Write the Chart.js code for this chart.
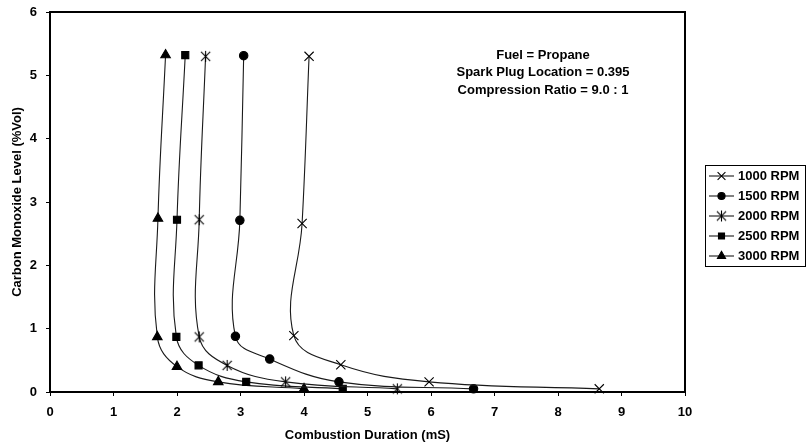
<!DOCTYPE html>
<html>
<head>
<meta charset="utf-8">
<script src="https://cdn.jsdelivr.net/npm/chart.js@4.4.1/dist/chart.umd.min.js"></script>
<style>
  html, body { margin: 0; padding: 0; background: #fff; }
  #wrap { width: 806px; height: 447px; position: relative; }
</style>
</head>
<body>
<div id="wrap"><canvas id="c" width="806" height="447"></canvas></div>
<script>
// Engine speeds (series names)
const speeds = ['1000 RPM', '1500 RPM', '2000 RPM', '2500 RPM', '3000 RPM'];

// Combustion duration (mS) per speed
const dur1000 = [4.08, 3.97, 3.84, 4.58, 5.97, 8.65];
const dur1500 = [3.05, 2.99, 2.92, 3.46, 4.55, 6.67];
const dur2000 = [2.45, 2.35, 2.35, 2.79, 3.71, 5.47];
const dur2500 = [2.13, 2.00, 1.99, 2.34, 3.09, 4.61];
const dur3000 = [1.82, 1.70, 1.69, 2.00, 2.65, 4.00];

// Carbon monoxide level (%Vol) per speed
const co1000 = [5.30, 2.66, 0.89, 0.43, 0.16, 0.05];
const co1500 = [5.31, 2.71, 0.88, 0.52, 0.16, 0.05];
const co2000 = [5.30, 2.72, 0.87, 0.42, 0.16, 0.05];
const co2500 = [5.32, 2.72, 0.87, 0.42, 0.16, 0.05];
const co3000 = [5.32, 2.74, 0.87, 0.40, 0.16, 0.05];

// Axis tick values
const xTicks = [0, 1, 2, 3, 4, 5, 6, 7, 8, 9, 10];
const yTicks = [0, 1, 2, 3, 4, 5, 6];

// Annotation lines
const notes = ['Fuel = Propane', 'Spark Plug Location = 0.395', 'Compression Ratio = 9.0 : 1'];

const FONT = 'Liberation Sans, Arial, sans-serif';

// Six-spoke asterisk marker
function asteriskMarker() {
  const s = 13, c = document.createElement('canvas');
  c.width = s; c.height = s;
  const g = c.getContext('2d');
  g.strokeStyle = '#000'; g.lineWidth = 1.1;
  const m = s / 2, r = 4.6;
  g.beginPath();
  g.moveTo(m - r, m - r); g.lineTo(m + r, m + r);
  g.moveTo(m + r, m - r); g.lineTo(m - r, m + r);
  g.moveTo(m, m - r - 1); g.lineTo(m, m + r + 1);
  g.stroke();
  return c;
}
const star = asteriskMarker();

function pts(xs, ys) { return xs.map((x, i) => ({ x: x, y: ys[i] })); }

const styles = [
  { pointStyle: 'crossRot', radius: 6.5 },
  { pointStyle: 'circle', radius: 4.2 },
  { pointStyle: star, radius: 6 },
  { pointStyle: 'rect', radius: 5 },
  { pointStyle: 'triangle', radius: 5.5 }
];
const series = [pts(dur1000, co1000), pts(dur1500, co1500), pts(dur2000, co2000), pts(dur2500, co2500), pts(dur3000, co3000)];

const datasets = speeds.map((name, i) => ({
  label: name,
  data: series[i],
  showLine: true,
  tension: 0.4,
  borderColor: '#1a1a1a',
  borderWidth: 1.1,
  backgroundColor: '#000',
  pointBackgroundColor: '#000',
  pointBorderColor: '#000',
  pointBorderWidth: 1.1,
  pointStyle: styles[i].pointStyle,
  pointRadius: styles[i].radius,
  pointHoverRadius: styles[i].radius,
  clip: false
}));

// Frame, annotation and line-with-marker legend
const extras = {
  id: 'extras',
  afterDatasetsDraw(chart) {
    const ctx = chart.ctx, a = chart.chartArea;
    ctx.save();
    ctx.strokeStyle = '#000';
    ctx.lineWidth = 2;
    ctx.beginPath();
    ctx.moveTo(a.left, a.top); ctx.lineTo(a.right, a.top); ctx.lineTo(a.right, a.bottom);
    ctx.stroke();

    ctx.fillStyle = '#000';
    ctx.font = 'bold 13px ' + FONT;
    ctx.textAlign = 'center';
    ctx.textBaseline = 'middle';
    notes.forEach((t, i) => ctx.fillText(t, 543, 55 + i * 17.5));

    // legend
    const lx = 705, ly = 165, lw = 100, lh = 101;
    ctx.lineWidth = 1;
    ctx.strokeRect(lx + 0.5, ly + 0.5, lw, lh);
    chart.data.datasets.forEach((ds, i) => {
      const y = 176 + i * 20;
      ctx.strokeStyle = '#1a1a1a';
      ctx.lineWidth = 1.1;
      ctx.beginPath(); ctx.moveTo(709, y); ctx.lineTo(734, y); ctx.stroke();
      ctx.fillStyle = '#000'; ctx.strokeStyle = '#000';
      Chart.helpers.drawPoint(ctx, { pointStyle: ds.pointStyle, radius: ds.pointRadius * 0.85, rotation: 0, borderWidth: 1.1 }, 721.5, y);
      ctx.fillStyle = '#000';
      ctx.font = 'bold 13px ' + FONT;
      ctx.textAlign = 'left';
      ctx.textBaseline = 'middle';
      ctx.fillText(ds.label, 738, y + 0.5);
    });
    ctx.restore();
  }
};

function noScalePadding(s) {
  s.paddingTop = 0; s.paddingBottom = 0; s.paddingLeft = 0; s.paddingRight = 0;
}

new Chart(document.getElementById('c'), {
  type: 'scatter',
  data: { datasets: datasets },
  options: {
    responsive: false,
    animation: false,
    events: [],
    layout: { padding: { top: 12, right: 121, left: 0, bottom: 0 } },
    plugins: { legend: { display: false }, tooltip: { enabled: false } },
    scales: {
      x: {
        type: 'linear', min: 0, max: 10,
        afterFit(s) { s.height = 55; noScalePadding(s); },
        afterBuildTicks(s) { s.ticks = xTicks.map(v => ({ value: v })); },
        grid: { drawOnChartArea: false, drawTicks: true, tickLength: 4, color: '#000', lineWidth: 1 },
        border: { display: true, color: '#000', width: 2 },
        ticks: { color: '#000', font: { family: FONT, size: 13, weight: 'bold' }, padding: 9, maxRotation: 0 },
        title: { display: true, text: 'Combustion Duration (mS)', color: '#000', font: { family: FONT, size: 13, weight: 'bold' }, padding: { top: 0, bottom: 4 } }
      },
      y: {
        type: 'linear', min: 0, max: 6,
        afterFit(s) { s.width = 50; noScalePadding(s); },
        afterBuildTicks(s) { s.ticks = yTicks.map(v => ({ value: v })); },
        grid: { drawOnChartArea: false, drawTicks: true, tickLength: 4, color: '#000', lineWidth: 1 },
        border: { display: true, color: '#000', width: 2 },
        ticks: { color: '#000', font: { family: FONT, size: 13, weight: 'bold' }, padding: 9 },
        title: { display: true, text: 'Carbon Monoxide Level (%Vol)', color: '#000', font: { family: FONT, size: 13, weight: 'bold' }, padding: { top: 10, bottom: 0 } }
      }
    }
  },
  plugins: [extras]
});
</script>
</body>
</html>
